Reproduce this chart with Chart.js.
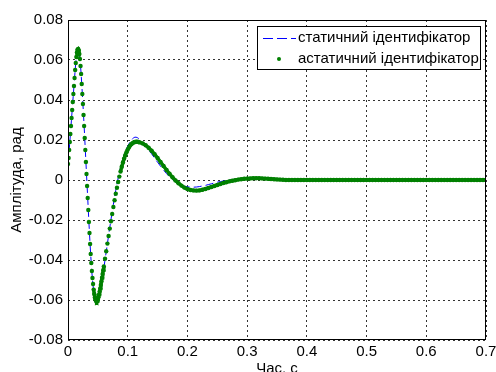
<!DOCTYPE html>
<html>
<head>
<meta charset="utf-8">
<script src="https://cdn.jsdelivr.net/npm/chart.js@4.4.1/dist/chart.umd.min.js"></script>
<style>
  body { margin: 0; background: #fff; }
</style>
</head>
<body>
<canvas id="chart" width="496" height="372"></canvas>
<script>
// sample grid: fine steps where the response moves fast, coarser later
function grid(start, step, count) {
  const out = [];
  for (let i = 0; i < count; i++) out.push(+(start + i * step).toFixed(4));
  return out;
}
const timeA = grid(0, 0.001, 61);     // 0 .. 0.060
const timeB = grid(0.062, 0.002, 30); // 0.062 .. 0.120
const timeC = grid(0.125, 0.005, 116); // 0.125 .. 0.700
const time = timeA.concat(timeB, timeC);

// астатичний ідентифікатор (green dots)
const astatA = [
  0.008, 0.011, 0.015, 0.019, 0.023, 0.027, 0.031, 0.035, 0.039, 0.043,
  0.047, 0.051, 0.055, 0.0585, 0.0615, 0.0638, 0.0652, 0.0655, 0.0648, 0.063,
  0.0605, 0.057, 0.053, 0.048, 0.043, 0.038, 0.0325, 0.027, 0.021, 0.015,
  0.009, 0.003, -0.003, -0.009, -0.015, -0.021, -0.0265, -0.032, -0.037, -0.0415,
  -0.0455, -0.049, -0.052, -0.0548, -0.057, -0.0587, -0.0598, -0.0605, -0.0608, -0.0605,
  -0.0597, -0.0586, -0.0573, -0.0558, -0.0542, -0.0525, -0.0507, -0.0489, -0.047, -0.0451,
  -0.0432
];
const astatB = [
  -0.0394, -0.0356, -0.0318, -0.028, -0.0243, -0.0206, -0.017, -0.0135, -0.0101, -0.0069,
  -0.0039, -0.001, 0.0017, 0.0042, 0.0066, 0.0088, 0.0107, 0.0124, 0.0139, 0.0152,
  0.0163, 0.0172, 0.0179, 0.0184, 0.0188, 0.019, 0.0191, 0.0191, 0.019, 0.0188
];
const astatC = [
  0.0183, 0.0174, 0.0161, 0.0146, 0.0129, 0.011, 0.009, 0.007, 0.005, 0.0031,
  0.0014, -0.0002, -0.0016, -0.0028, -0.0038, -0.0045, -0.005, -0.0052, -0.0053, -0.0052,
  -0.0049, -0.0045, -0.004, -0.0035, -0.003, -0.0025, -0.002, -0.0015, -0.0011, -0.0007,
  -0.0004, -0.0001, 0.0002, 0.0004, 0.0006, 0.0007, 0.0008, 0.0009, 0.0009, 0.0009,
  0.0008, 0.0007, 0.0006, 0.0005, 0.0004, 0.0003, 0.0002, 0.0001
];

// статичний ідентифікатор (blue dashed line)
const statA = [
  0.008, 0.011, 0.015, 0.019, 0.023, 0.027, 0.031, 0.035, 0.039, 0.043,
  0.047, 0.051, 0.055, 0.0585, 0.0615, 0.0638, 0.0652, 0.0655, 0.0648, 0.063,
  0.0605, 0.057, 0.053, 0.048, 0.043, 0.038, 0.0325, 0.027, 0.021, 0.015,
  0.009, 0.003, -0.003, -0.009, -0.015, -0.021, -0.0267, -0.0322, -0.0373, -0.042,
  -0.0462, -0.0498, -0.0529, -0.0556, -0.0578, -0.0595, -0.0607, -0.0614, -0.0616, -0.0613,
  -0.0606, -0.0596, -0.0584, -0.057, -0.0554, -0.0537, -0.0519, -0.05, -0.048, -0.046,
  -0.044
];
const statB = [
  -0.04, -0.0359, -0.0318, -0.0277, -0.0237, -0.0197, -0.0158, -0.0121, -0.0085, -0.0051,
  -0.002, 0.001, 0.0037, 0.0062, 0.0085, 0.0106, 0.0125, 0.0142, 0.0157, 0.017,
  0.0181, 0.0191, 0.0199, 0.0206, 0.0211, 0.0214, 0.0214, 0.0212, 0.0208, 0.0203
];
const statC = [
  0.0188, 0.0171, 0.0152, 0.0131, 0.011, 0.0089, 0.0069, 0.005, 0.0032, 0.0016,
  0.0002, -0.001, -0.0019, -0.0026, -0.0031, -0.0034, -0.0036, -0.0036, -0.0035, -0.0033,
  -0.003, -0.0027, -0.0023, -0.0019, -0.0015, -0.0011, -0.0008, -0.0005, -0.0002, 0,
  0.0002, 0.0004, 0.0005, 0.0006, 0.0007, 0.0007, 0.0007, 0.0007, 0.0006, 0.0005,
  0.0005, 0.0004, 0.0003, 0.0002, 0.0002, 0.0001, 0.0001, 0
];

// both responses have settled from 0.365 s to 0.7 s
const settled = [
  0, 0, 0, 0, 0, 0, 0, 0, 0, 0, 0, 0, 0, 0, 0, 0, 0,
  0, 0, 0, 0, 0, 0, 0, 0, 0, 0, 0, 0, 0, 0, 0, 0, 0,
  0, 0, 0, 0, 0, 0, 0, 0, 0, 0, 0, 0, 0, 0, 0, 0, 0,
  0, 0, 0, 0, 0, 0, 0, 0, 0, 0, 0, 0, 0, 0, 0, 0, 0
];

const astatValues = astatA.concat(astatB, astatC, settled);
const statValues = statA.concat(statB, statC, settled);

const xTicks = [0, 0.1, 0.2, 0.3, 0.4, 0.5, 0.6, 0.7];
const yTicks = [-0.08, -0.06, -0.04, -0.02, 0, 0.02, 0.04, 0.06, 0.08];
const legendLabels = ['статичний ідентифікатор', 'астатичний ідентифікатор'];

const FONT = "'Liberation Sans', Arial, sans-serif";
Chart.defaults.font.family = FONT;
Chart.defaults.font.size = 15;
Chart.defaults.color = '#000';

function toPoints(values) {
  return values.map((v, i) => ({ x: time[i], y: v }));
}

// dots merge into a thick band where they sit close together
function denseOnly(ctx) {
  const dx = ctx.p1.x - ctx.p0.x, dy = ctx.p1.y - ctx.p0.y;
  return Math.hypot(dx, dy) > 5 ? 'transparent' : undefined;
}

// axes box + legend, MATLAB style
const boxAndLegend = {
  id: 'boxAndLegend',
  afterDraw(chart) {
    const ctx = chart.ctx;
    const a = chart.chartArea;
    ctx.save();
    ctx.strokeStyle = '#000';
    ctx.lineWidth = 1;
    ctx.setLineDash([]);
    ctx.strokeRect(a.left + 0.5, a.top + 0.5, a.right - a.left - 1, a.bottom - a.top - 1);

    const lx = 257, ly = 26, lw = 223, lh = 43;
    ctx.fillStyle = '#fff';
    ctx.fillRect(lx, ly, lw, lh);
    ctx.strokeRect(lx + 0.5, ly + 0.5, lw, lh);

    ctx.strokeStyle = '#0000ff';
    ctx.setLineDash([10, 4]);
    ctx.beginPath();
    ctx.moveTo(263, 38.5);
    ctx.lineTo(296, 38.5);
    ctx.stroke();
    ctx.setLineDash([]);

    ctx.fillStyle = '#008000';
    ctx.beginPath();
    ctx.arc(279, 59, 2, 0, Math.PI * 2);
    ctx.fill();

    ctx.fillStyle = '#000';
    ctx.font = '15px ' + FONT;
    ctx.textBaseline = 'middle';
    ctx.textAlign = 'left';
    ctx.fillText(legendLabels[0], 298, 38);
    ctx.fillText(legendLabels[1], 298, 59);
    ctx.restore();
  }
};

new Chart(document.getElementById('chart'), {
  type: 'scatter',
  data: {
    datasets: [
      {
        label: legendLabels[1],
        data: toPoints(astatValues),
        showLine: true,
        borderColor: '#008000',
        borderWidth: 3.5,
        segment: { borderColor: denseOnly },
        pointRadius: 2.2,
        pointBorderWidth: 0,
        pointBackgroundColor: '#008000',
        order: 1
      },
      {
        label: legendLabels[0],
        data: toPoints(statValues),
        showLine: true,
        pointRadius: 0,
        borderColor: '#0000ff',
        borderWidth: 1,
        borderDash: [8, 4],
        order: 2
      }
    ]
  },
  options: {
    responsive: false,
    animation: false,
    layout: { padding: { top: 20, right: 10, left: 0, bottom: 0 } },
    plugins: { legend: { display: false }, tooltip: { enabled: false } },
    scales: {
      x: {
        type: 'linear',
        min: 0,
        max: 0.7,
        afterBuildTicks: s => { s.ticks = xTicks.map(v => ({ value: v })); },
        afterFit: s => { s.height = 32; s.paddingLeft = 0; s.paddingRight = 0; },
        ticks: {
          padding: 3,
          maxRotation: 0,
          callback: v => (v === 0 ? '0' : v.toFixed(1))
        },
        grid: { color: 'rgba(0,0,0,0.8)', drawTicks: false },
        border: { display: false, dash: [2, 3] },
        title: { display: true, text: 'Час, с', padding: { top: 0, bottom: -6 } }
      },
      y: {
        min: -0.08,
        max: 0.08,
        afterBuildTicks: s => { s.ticks = yTicks.map(v => ({ value: v })); },
        afterFit: s => { s.width = 68; s.paddingTop = 0; s.paddingBottom = 0; },
        ticks: {
          padding: 5,
          callback: v => (v === 0 ? '0' : v.toFixed(2))
        },
        grid: { color: 'rgba(0,0,0,0.8)', drawTicks: false },
        border: { display: false, dash: [2, 3] },
        title: { display: true, text: 'Амплітуда, рад', padding: { top: 8, bottom: 0 } }
      }
    }
  },
  plugins: [boxAndLegend]
});
</script>
</body>
</html>
